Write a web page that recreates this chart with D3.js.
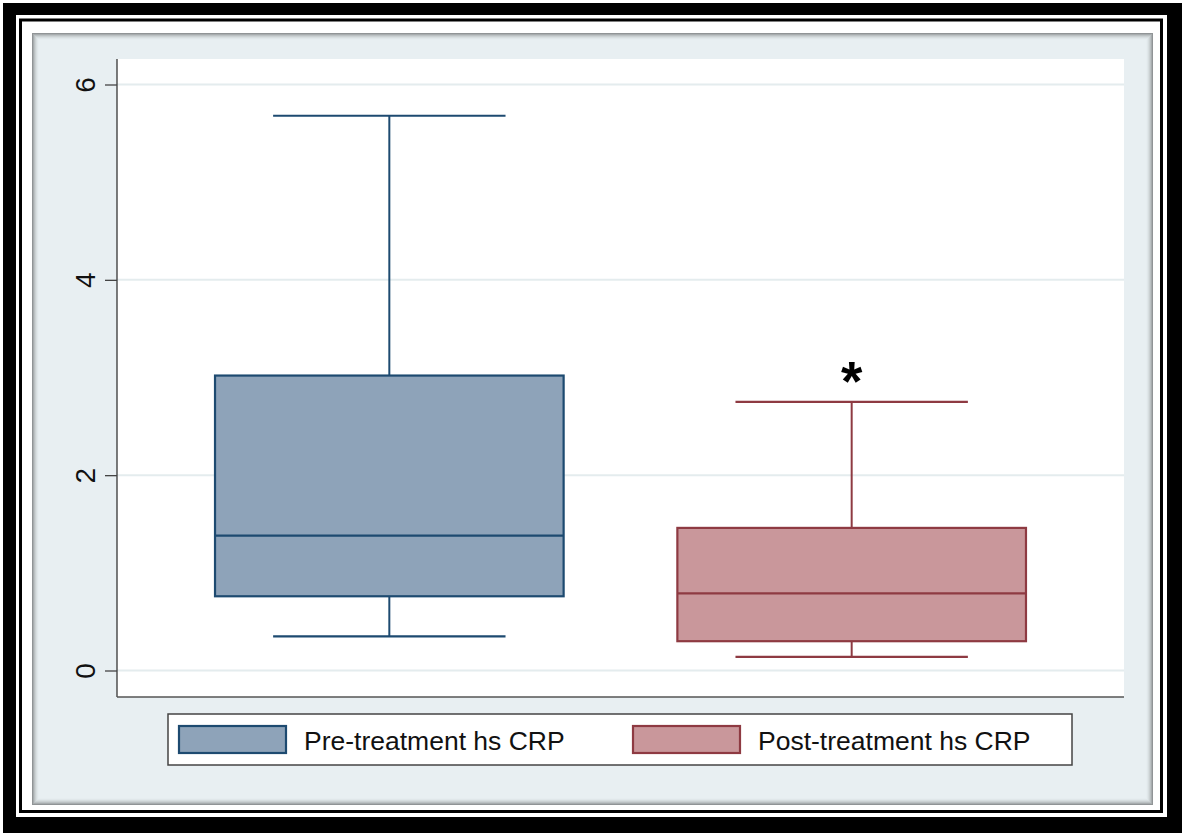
<!DOCTYPE html>
<html>
<head>
<meta charset="utf-8">
<script src="https://cdn.jsdelivr.net/npm/d3@7/dist/d3.min.js"></script>
<style>
  html, body { margin: 0; padding: 0; background: #ffffff; }
  svg { display: block; }
  text { font-family: "Liberation Sans", Arial, Helvetica, sans-serif; fill: #111; }
</style>
</head>
<body>
<svg id="chart" width="1182" height="833"></svg>
<script>
// hs CRP before and after treatment: box plot summaries
const groups      = ["Pre-treatment hs CRP", "Post-treatment hs CRP"];
const whiskerLow  = [0.35, 0.14];
const q1          = [0.76, 0.30];
const median      = [1.38, 0.79];
const q3          = [3.02, 1.46];
const whiskerHigh = [5.68, 2.75];
const marks       = ["", "*"];
const yTicks      = [0, 2, 4, 6];

const fillColors   = ["#8ea3b9", "#c9979b"];
const strokeColors = ["#1d4a70", "#8e3a42"];

const W = 1182, H = 833;
const svg = d3.select("#chart");

// ---- framed background ----
svg.append("rect").attr("x", 3).attr("y", 3).attr("width", W - 3).attr("height", H - 3).attr("fill", "#000");
svg.append("rect").attr("x", 16).attr("y", 15).attr("width", 1167 - 16).attr("height", 817 - 15).attr("fill", "#fff");
svg.append("rect").attr("x", 20.5).attr("y", 20).attr("width", 1161.5 - 20.5).attr("height", 811.5 - 20)
  .attr("fill", "none").attr("stroke", "#000").attr("stroke-width", 3);

const panel = { x0: 32, y0: 33, x1: 1153, y1: 805 };
svg.append("rect").attr("x", panel.x0).attr("y", panel.y0)
  .attr("width", panel.x1 - panel.x0).attr("height", panel.y1 - panel.y0)
  .attr("fill", "#e8eff2");
// soft inner shadow along the panel edges
d3.range(7).forEach(i => {
  svg.append("rect")
    .attr("x", panel.x0 + i + 0.5).attr("y", panel.y0 + i + 0.5)
    .attr("width", panel.x1 - panel.x0 - 2 * i - 1).attr("height", panel.y1 - panel.y0 - 2 * i - 1)
    .attr("fill", "none").attr("stroke", "#000")
    .attr("stroke-opacity", 0.38 * Math.pow(1 - i / 7, 2));
});

// ---- plot region ----
const plot = { left: 117, right: 1124, top: 59, bottom: 697 };
svg.append("rect").attr("x", plot.left).attr("y", plot.top)
  .attr("width", plot.right - plot.left).attr("height", plot.bottom - plot.top)
  .attr("fill", "#fff");

const y = d3.scaleLinear().domain([0, 6]).range([670.5, 84.5]);
const x = d3.scaleBand().domain(groups).range([plot.left, plot.right])
  .paddingInner(0.246).paddingOuter(0.212);

// grid lines
svg.append("g").selectAll("line").data(yTicks).join("line")
  .attr("x1", plot.left).attr("x2", plot.right)
  .attr("y1", d => y(d)).attr("y2", d => y(d))
  .attr("stroke", "#e4ecee").attr("stroke-width", 2);

// y axis
const yAxis = svg.append("g").attr("transform", `translate(${plot.left},0)`)
  .call(d3.axisLeft(y).tickValues(yTicks).tickSize(12).tickPadding(0).tickFormat(d3.format("d")));
yAxis.select(".domain").remove();
yAxis.selectAll(".tick line").attr("stroke", "#444").attr("stroke-width", 1.3);
yAxis.selectAll(".tick text")
  .attr("x", null).attr("dy", null)
  .attr("text-anchor", "middle")
  .attr("transform", "translate(-22,0) rotate(-90)")
  .style("font-size", "28px").style("fill", "#111");

svg.append("line").attr("x1", plot.left).attr("x2", plot.left)
  .attr("y1", plot.top).attr("y2", plot.bottom)
  .attr("stroke", "#444").attr("stroke-width", 1.4);
svg.append("line").attr("x1", plot.left).attr("x2", plot.right)
  .attr("y1", plot.bottom).attr("y2", plot.bottom)
  .attr("stroke", "#555").attr("stroke-width", 1.6);

// ---- boxes ----
const rows = groups.map((g, i) => ({
  g, i, lo: whiskerLow[i], q1: q1[i], med: median[i], q3: q3[i], hi: whiskerHigh[i], mark: marks[i]
}));

const boxes = svg.append("g").selectAll("g").data(rows).join("g");
const cx = d => x(d.g) + x.bandwidth() / 2;
const capHalf = x.bandwidth() / 3;

boxes.append("line").attr("x1", cx).attr("x2", cx)
  .attr("y1", d => y(d.q3)).attr("y2", d => y(d.hi))
  .attr("stroke", d => strokeColors[d.i]).attr("stroke-width", 2);
boxes.append("line").attr("x1", cx).attr("x2", cx)
  .attr("y1", d => y(d.q1)).attr("y2", d => y(d.lo))
  .attr("stroke", d => strokeColors[d.i]).attr("stroke-width", 2);
boxes.append("line").attr("x1", d => cx(d) - capHalf).attr("x2", d => cx(d) + capHalf)
  .attr("y1", d => y(d.hi)).attr("y2", d => y(d.hi))
  .attr("stroke", d => strokeColors[d.i]).attr("stroke-width", 2.2);
boxes.append("line").attr("x1", d => cx(d) - capHalf).attr("x2", d => cx(d) + capHalf)
  .attr("y1", d => y(d.lo)).attr("y2", d => y(d.lo))
  .attr("stroke", d => strokeColors[d.i]).attr("stroke-width", 2.2);
boxes.append("rect")
  .attr("x", d => x(d.g)).attr("width", x.bandwidth())
  .attr("y", d => y(d.q3)).attr("height", d => y(d.q1) - y(d.q3))
  .attr("fill", d => fillColors[d.i])
  .attr("stroke", d => strokeColors[d.i]).attr("stroke-width", 2.2);
boxes.append("line").attr("x1", d => x(d.g)).attr("x2", d => x(d.g) + x.bandwidth())
  .attr("y1", d => y(d.med)).attr("y2", d => y(d.med))
  .attr("stroke", d => strokeColors[d.i]).attr("stroke-width", 2.2);

// significance marker above the whisker
boxes.filter(d => d.mark).append("text")
  .attr("x", cx).attr("y", d => y(d.hi) - 36)
  .attr("text-anchor", "middle").attr("dominant-baseline", "central")
  .attr("dy", "0.28em")
  .style("font-size", "55px").style("font-weight", "bold").style("fill", "#000")
  .text(d => d.mark);

// ---- legend ----
const legend = { x0: 168, y0: 714, x1: 1072, y1: 765 };
svg.append("rect").attr("x", legend.x0).attr("y", legend.y0)
  .attr("width", legend.x1 - legend.x0).attr("height", legend.y1 - legend.y0)
  .attr("fill", "#fff").attr("stroke", "#444").attr("stroke-width", 1.5);

const legendX = [179, 633];
const items = svg.append("g").selectAll("g").data(rows).join("g")
  .attr("transform", d => `translate(${legendX[d.i]},726)`);
items.append("rect").attr("width", 107).attr("height", 27)
  .attr("fill", d => fillColors[d.i]).attr("stroke", d => strokeColors[d.i]).attr("stroke-width", 2.2);
items.append("text").attr("x", 125).attr("y", 24)
  .style("font-size", "26.5px").style("fill", "#111")
  .text(d => d.g);
</script>
</body>
</html>
